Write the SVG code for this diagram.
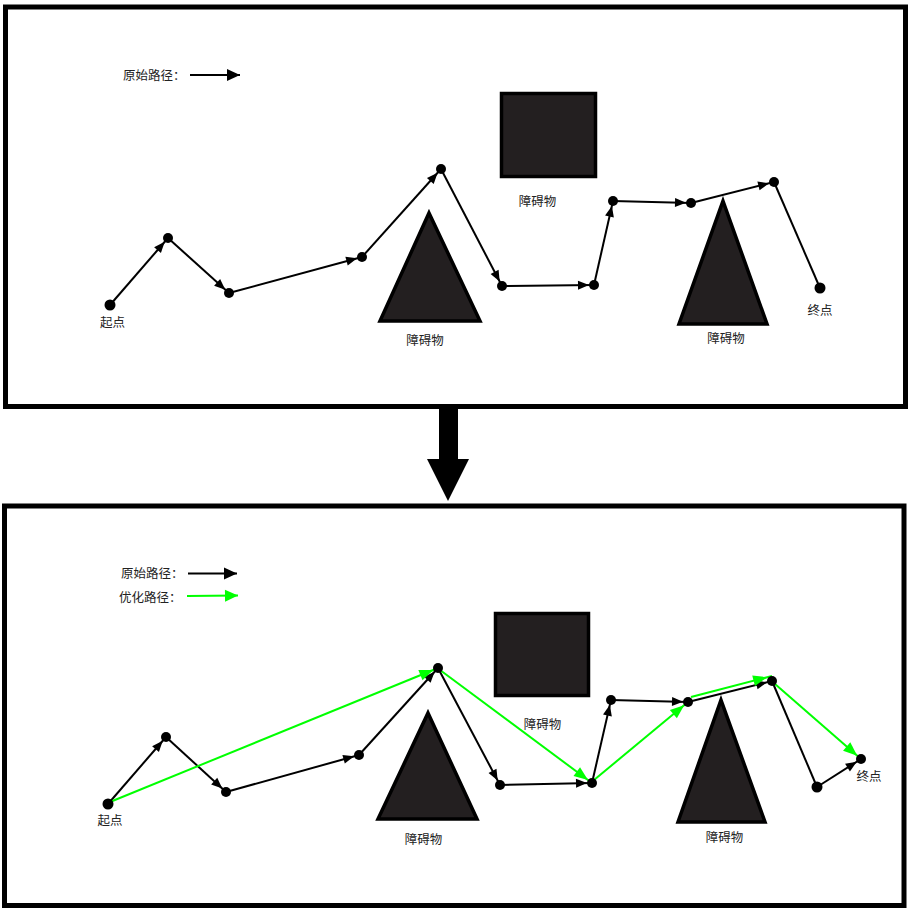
<svg xmlns="http://www.w3.org/2000/svg" width="910" height="909" viewBox="0 0 910 909">
<style>
  .panel{fill:#fff;stroke:#000;stroke-width:5}
  .obs{fill:#231f20;stroke:#000;stroke-width:3.5;stroke-linejoin:miter}
  .lbl{font-family:"Noto Sans CJK SC","Liberation Sans",sans-serif;font-size:12.5px;fill:#222}
  .blk{stroke:#000;stroke-width:2;fill:none;marker-end:url(#ahb)}
  .blk0{stroke:#000;stroke-width:2;fill:none}
  .grn{stroke:#00ff00;stroke-width:2;fill:none;marker-end:url(#ahg)}
  .dot{fill:#000}
</style>
<defs>
  <marker id="ahb" markerUnits="userSpaceOnUse" markerWidth="11" markerHeight="9" refX="16" refY="4.5" orient="auto" overflow="visible">
    <path d="M0,0 L11,4.5 L0,9 Z" fill="#000"/>
  </marker>
  <marker id="ahb0" markerUnits="userSpaceOnUse" markerWidth="13" markerHeight="12" refX="13" refY="6" orient="auto" overflow="visible">
    <path d="M0,0 L13,6 L0,12 Z" fill="#000"/>
  </marker>
  <marker id="ahg" markerUnits="userSpaceOnUse" markerWidth="14" markerHeight="11" refX="19" refY="5.5" orient="auto" overflow="visible">
    <path d="M0,0 L14,5.5 L0,11 Z" fill="#00ff00"/>
  </marker>
  <marker id="ahg0" markerUnits="userSpaceOnUse" markerWidth="13" markerHeight="12" refX="13" refY="6" orient="auto" overflow="visible">
    <path d="M0,0 L13,6 L0,12 Z" fill="#00ff00"/>
  </marker>
</defs>
<rect width="910" height="909" fill="#fff"/>

<!-- panels -->
<g id="panel-top"><rect class="panel" x="5.5" y="7" width="900" height="399.5"/></g>
<g id="panel-bottom"><rect class="panel" x="4.5" y="506" width="899.5" height="399.5"/></g>

<!-- big transition arrow -->
<g id="transition-arrow">
  <path d="M439,409 L458,409 L458,459 L469,459 L448,501 L427,459 L439,459 Z" fill="#000"/>
</g>

<!-- legends -->
<g id="legend-top">
  <text class="lbl" x="123" y="79.5">原始路径：</text>
  <line x1="190" y1="75" x2="240" y2="75" stroke="#000" stroke-width="2" marker-end="url(#ahb0)"/>
</g>
<g id="legend-bottom">
  <text class="lbl" x="121" y="578">原始路径：</text>
  <line x1="188" y1="573.5" x2="237" y2="573.5" stroke="#000" stroke-width="2" marker-end="url(#ahb0)"/>
  <text class="lbl" x="119" y="602">优化路径：</text>
  <line x1="187" y1="596" x2="238" y2="595.5" stroke="#00ff00" stroke-width="2" marker-end="url(#ahg0)"/>
</g>

<!-- obstacles top -->
<g id="obs-top-rect">
  <rect class="obs" x="501.5" y="93.5" width="94" height="83"/>
  <text class="lbl" x="537.5" y="205.5" text-anchor="middle">障碍物</text>
</g>
<g id="obs-top-tri1">
  <polygon class="obs" points="429,213 480,321 380,321"/>
  <text class="lbl" x="425" y="344.5" text-anchor="middle">障碍物</text>
</g>
<g id="obs-top-tri2">
  <polygon class="obs" points="723,201 767,324 679,324"/>
  <text class="lbl" x="726" y="342.5" text-anchor="middle">障碍物</text>
</g>

<!-- obstacles bottom -->
<g id="obs-bot-rect">
  <rect class="obs" x="495.5" y="613.5" width="93" height="82"/>
  <text class="lbl" x="542.5" y="728.5" text-anchor="middle">障碍物</text>
</g>
<g id="obs-bot-tri1">
  <polygon class="obs" points="428,713 477,819 378,819"/>
  <text class="lbl" x="423.5" y="843.5" text-anchor="middle">障碍物</text>
</g>
<g id="obs-bot-tri2">
  <polygon class="obs" points="721,700 765,822 678,822"/>
  <text class="lbl" x="724.5" y="841.5" text-anchor="middle">障碍物</text>
</g>

<!-- connectors -->
<g id="connectors">
  <!-- top original path -->
  <line class="blk" x1="110" y1="305" x2="168" y2="238"/>
  <line class="blk" x1="168" y1="238" x2="229" y2="293"/>
  <line class="blk" x1="229" y1="293" x2="362" y2="257"/>
  <line class="blk" x1="362" y1="257" x2="441" y2="169"/>
  <line class="blk" x1="441" y1="169" x2="502" y2="286"/>
  <line class="blk" x1="502" y1="286" x2="594" y2="285"/>
  <line class="blk" x1="594" y1="285" x2="613" y2="201"/>
  <line class="blk" x1="613" y1="201" x2="691" y2="203"/>
  <line class="blk" x1="691" y1="203" x2="774" y2="182"/>
  <line class="blk0" x1="774" y1="182" x2="820" y2="288"/>
  <!-- bottom original path -->
  <line class="blk" x1="108" y1="804" x2="166" y2="737"/>
  <line class="blk" x1="166" y1="737" x2="226" y2="792"/>
  <line class="blk" x1="226" y1="792" x2="359" y2="755"/>
  <line class="blk" x1="359" y1="755" x2="438" y2="668"/>
  <line class="blk" x1="438" y1="668" x2="500" y2="785"/>
  <line class="blk" x1="500" y1="785" x2="592" y2="783"/>
  <line class="blk" x1="592" y1="783" x2="611" y2="700"/>
  <line class="blk" x1="611" y1="700" x2="688" y2="702"/>
  <line class="blk" x1="688" y1="702" x2="772" y2="681"/>
  <line class="blk0" x1="772" y1="681" x2="817" y2="787"/>
  <line class="blk" x1="817" y1="787" x2="861" y2="759"/>
  <!-- bottom optimized path -->
  <line class="grn" x1="110" y1="802" x2="438" y2="668"/>
  <line class="grn" x1="440" y1="670" x2="592" y2="783"/>
  <line class="grn" x1="594" y1="780" x2="688" y2="702"/>
  <line class="grn" x1="691" y1="697" x2="772" y2="676"/>
  <line class="grn" x1="775" y1="684" x2="861" y2="759"/>
</g>

<!-- nodes top -->
<g id="t-start"><circle class="dot" cx="110" cy="305" r="5.5"/><text class="lbl" x="112.5" y="327" text-anchor="middle">起点</text></g>
<g id="t-n1"><circle class="dot" cx="168" cy="238" r="5"/></g>
<g id="t-n2"><circle class="dot" cx="229" cy="293" r="5"/></g>
<g id="t-n3"><circle class="dot" cx="362" cy="257" r="5"/></g>
<g id="t-n4"><circle class="dot" cx="441" cy="169" r="5"/></g>
<g id="t-n5"><circle class="dot" cx="502" cy="286" r="5"/></g>
<g id="t-n6"><circle class="dot" cx="594" cy="285" r="5"/></g>
<g id="t-n7"><circle class="dot" cx="613" cy="201" r="5"/></g>
<g id="t-n8"><circle class="dot" cx="691" cy="203" r="5"/></g>
<g id="t-n9"><circle class="dot" cx="774" cy="182" r="5"/></g>
<g id="t-end"><circle class="dot" cx="820" cy="288" r="5.5"/><text class="lbl" x="820" y="314.5" text-anchor="middle">终点</text></g>

<!-- nodes bottom -->
<g id="b-start"><circle class="dot" cx="108" cy="804" r="5.5"/><text class="lbl" x="110" y="825" text-anchor="middle">起点</text></g>
<g id="b-n1"><circle class="dot" cx="166" cy="737" r="5"/></g>
<g id="b-n2"><circle class="dot" cx="226" cy="792" r="5"/></g>
<g id="b-n3"><circle class="dot" cx="359" cy="755" r="5"/></g>
<g id="b-n4"><circle class="dot" cx="438" cy="668" r="5"/></g>
<g id="b-n5"><circle class="dot" cx="500" cy="785" r="5"/></g>
<g id="b-n6"><circle class="dot" cx="592" cy="783" r="5"/></g>
<g id="b-n7"><circle class="dot" cx="611" cy="700" r="5"/></g>
<g id="b-n8"><circle class="dot" cx="688" cy="702" r="5"/></g>
<g id="b-n9"><circle class="dot" cx="772" cy="681" r="5"/></g>
<g id="b-n10"><circle class="dot" cx="817" cy="787" r="5.5"/></g>
<g id="b-end"><circle class="dot" cx="861" cy="759" r="5"/><text class="lbl" x="869" y="781" text-anchor="middle">终点</text></g>
</svg>
